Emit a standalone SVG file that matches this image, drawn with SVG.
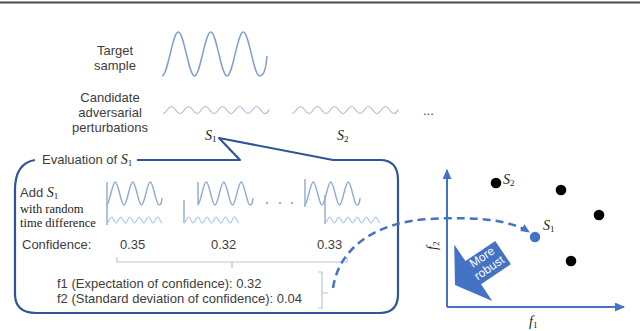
<svg xmlns="http://www.w3.org/2000/svg" width="640" height="331" viewBox="0 0 640 331">
<style>
.t{font-family:"Liberation Sans",Arial,sans-serif;font-size:13px;fill:#3d3d3d}
.tm{text-anchor:middle}
.sr{font-family:"Liberation Serif","Times New Roman",serif;font-size:12.5px;fill:#222}
.sym{font-family:"Liberation Serif","Times New Roman",serif;font-style:italic;font-size:14px;fill:#222}
.sub{font-style:normal;font-size:9px}
.wb{fill:none;stroke:#7f9fcf;stroke-width:1.5}
.ws{fill:none;stroke:#a9bfde;stroke-width:1.2}
.bw{fill:none;stroke:#8ea9d0;stroke-width:1.4}
.bs{fill:none;stroke:#b4c7e7;stroke-width:1.2}
.vl{stroke:#8ea9d0;stroke-width:1.4}
.br{fill:none;stroke:#b8c6da;stroke-width:1.2}
.axis{stroke:#4472c4;stroke-width:2;fill:none}
.dot{fill:#000}
</style>
<defs>
<marker id="ah" markerUnits="userSpaceOnUse" markerWidth="12" markerHeight="10" refX="9" refY="4.5" orient="auto">
<path d="M0,0 L10,4.5 L0,9 z" fill="#4472c4"/>
</marker>
<marker id="dh" markerUnits="userSpaceOnUse" markerWidth="12" markerHeight="10" refX="8" refY="4" orient="auto">
<path d="M0,0 L9,4 L0,8 z" fill="#4472c4"/>
</marker>
<path id="bigw" d="M0,0 c3.15,0 5.6,-23 8.75,-23 s5.6,23 8.75,23 s5.6,-23 8.75,-23 s5.6,23 8.75,23 s5.6,-23 8.75,-23 s5.6,23 8.75,23 s2.5,-5 3,-7"/>
<path id="smw" d="M0,0 c1.65,0 2.95,-6 4.6,-6 s2.95,6 4.6,6 s2.95,-6 4.6,-6 s2.95,6 4.6,6 s2.95,-6 4.6,-6 s2.95,6 4.6,6 s2.95,-6 4.6,-6 s2.95,6 4.6,6 s2.95,-6 4.6,-6 s2.95,6 4.6,6 s2.95,-6 4.6,-6 s2.95,6 4.6,6"/>
<path id="candw" d="M0,0 c3.06,0 5.44,-7 8.5,-7 s5.44,7 8.5,7 s5.44,-7 8.5,-7 s5.44,7 8.5,7 s5.44,-7 8.5,-7 s5.44,7 8.5,7 s5.44,-7 8.5,-7 s5.44,7 8.5,7 s5.44,-7 8.5,-7 s5.44,7 8.5,7 s5.44,-7 8.5,-7 s5.44,7 8.5,7 s3,-3 4.5,-4"/>
</defs>

<g id="header-rule">
<line x1="0" y1="2.5" x2="640" y2="2.5" stroke="#4a4a4a" stroke-width="2"/>
</g>

<g id="target-sample">
<text class="t tm" x="115" y="55">Target</text>
<text class="t tm" x="115" y="70">sample</text>
<path class="wb" d="M162,76 c5.85,0 10.4,-44 16.25,-44 s10.4,44 16.25,44 s10.4,-44 16.25,-44 s10.4,44 16.25,44 s10.4,-44 16.25,-44 s10.4,44 16.25,44 s6.5,-12 7.5,-20"/>
</g>

<g id="candidates">
<text class="t tm" x="110" y="102">Candidate</text>
<text class="t tm" x="110" y="117">adversarial</text>
<text class="t tm" x="110" y="132">perturbations</text>
<use href="#candw" class="ws" x="163" y="113.5"/>
<use href="#candw" class="ws" x="292" y="113.5"/>
<text class="t" x="423" y="115" font-size="9">...</text>
<text class="sym" x="205" y="140">S<tspan class="sub" dy="2">1</tspan></text>
<text class="sym" x="337" y="140">S<tspan class="sub" dy="2">2</tspan></text>
</g>

<g id="evaluation-callout">
<path d="M137,160 L240,160 L219,138 L333,160 L380,160 Q398,160 398,180 L398,294 Q398,313 380,313 L36,313 Q15,313 15,294 L15,190 C15,172 22,162 35,160" fill="none" stroke="#2f5597" stroke-width="2.2" stroke-linejoin="round"/>
<text class="t" x="42" y="164">Evaluation of <tspan class="sym">S</tspan><tspan class="sym sub" dy="2">1</tspan></text>
<text class="t" x="20" y="197">Add <tspan class="sym">S</tspan><tspan class="sym sub" dy="2">1</tspan></text>
<text class="sr" x="20" y="213">with random</text>
<text class="sr" x="20" y="227">time difference</text>

<line class="vl" x1="107" y1="182" x2="107" y2="225"/>
<use href="#bigw" class="bw" x="106.5" y="205"/>
<use href="#smw" class="bs" x="107" y="223"/>

<line class="vl" x1="198" y1="182" x2="198" y2="205"/>
<use href="#bigw" class="bw" x="197.5" y="205"/>
<line class="vl" x1="184" y1="200" x2="184" y2="223"/>
<use href="#smw" class="bs" x="184" y="223"/>

<circle cx="267" cy="203" r="1.2" fill="#9fb0c8"/>
<circle cx="280" cy="203" r="1.2" fill="#9fb0c8"/>
<circle cx="292" cy="203" r="1.2" fill="#9fb0c8"/>

<line class="vl" x1="305" y1="179" x2="305" y2="207"/>
<use href="#bigw" class="bw" x="304.5" y="205"/>
<line class="vl" x1="325" y1="195" x2="325" y2="224"/>
<use href="#smw" class="bs" x="325" y="223"/>

<text class="t" x="22" y="249">Confidence:</text>
<text class="t" x="120" y="249">0.35</text>
<text class="t" x="211" y="249">0.32</text>
<text class="t" x="317" y="249">0.33</text>
<path class="br" d="M117,257 L117,262 L347,262 L347,257 M232,262 L232,268"/>
<text class="t" x="57" y="288" font-size="13.4">f1 (Expectation of confidence): 0.32</text>
<text class="t" x="57" y="303" font-size="13.4">f2 (Standard deviation of confidence): 0.04</text>
<path class="br" d="M318,272 L322,272 L322,308 L318,308 M322,293 L328,293"/>
</g>

<g id="plot">
<line class="axis" x1="447" y1="307" x2="447" y2="170" marker-end="url(#ah)"/>
<line class="axis" x1="447" y1="307" x2="624" y2="307" marker-end="url(#ah)"/>
<text class="sym" transform="translate(437,250) rotate(-90)">f<tspan class="sub" dy="2">2</tspan></text>
<text class="sym" x="529" y="326">f<tspan class="sub" dy="2">1</tspan></text>
<g id="robust-arrow" transform="translate(455,285) rotate(-34)">
<path d="M0,0 L22,-34 L22,-14 L58,-14 L58,14 L22,14 L22,34 z" fill="#4472c4"/>
<text x="38" y="-4" fill="#fff" font-family="'Liberation Sans',Arial,sans-serif" font-size="12" text-anchor="middle">More</text>
<text x="38" y="9" fill="#fff" font-family="'Liberation Sans',Arial,sans-serif" font-size="12" text-anchor="middle">robust</text>
</g>
<g id="point-s2"><circle class="dot" cx="496" cy="183" r="5.3"/><text class="sym" x="503" y="184">S<tspan class="sub" dy="2">2</tspan></text></g>
<g id="point-a"><circle class="dot" cx="561" cy="190" r="5.3"/></g>
<g id="point-b"><circle class="dot" cx="599" cy="215" r="5.3"/></g>
<g id="point-c"><circle class="dot" cx="571" cy="261" r="5.3"/></g>
<g id="point-s1"><circle cx="535" cy="237" r="5.2" fill="#4472c4"/><text class="sym" x="543" y="230">S<tspan class="sub" dy="2">1</tspan></text></g>
</g>

<g id="connectors">
<path d="M333,288 C339,248 375,222 430,219 C480,216 512,221 529,232" fill="none" stroke="#4472c4" stroke-width="2.5" stroke-dasharray="8,5" marker-end="url(#dh)"/>
</g>
</svg>
